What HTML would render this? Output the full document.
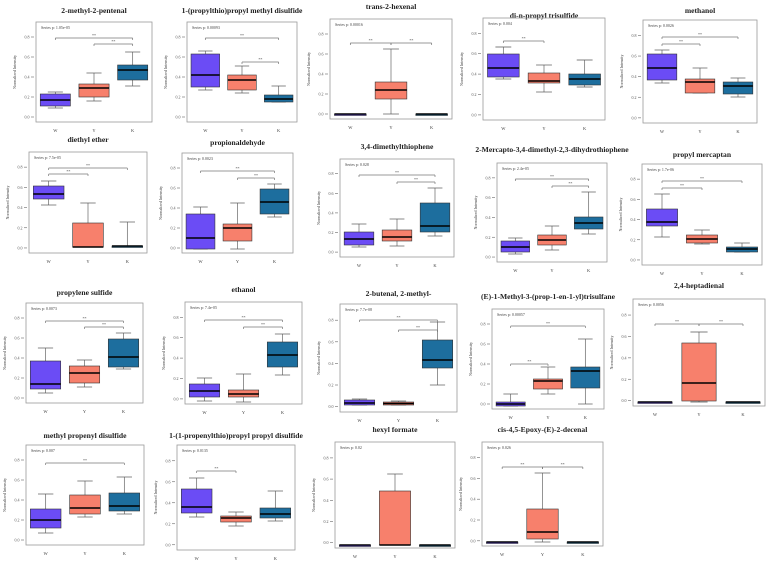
<!DOCTYPE html>
<html><head><meta charset="utf-8">
<style>
html,body{margin:0;padding:0;background:#fff;}
svg{display:block;font-family:"Liberation Serif",serif;}
</style></head>
<body>
<svg id="c" width="767" height="565"></svg>
<script>
const groups = ["W","Y","K"];
const colors = ["#6b4cf5","#f7806c","#1d6e9e"];
const titles = ["2-methyl-2-pentenal","1-(propylthio)propyl methyl disulfide","trans-2-hexenal","di-n-propyl trisulfide","methanol",
"diethyl ether","propionaldehyde","3,4-dimethylthiophene","2-Mercapto-3,4-dimethyl-2,3-dihydrothiophene","propyl mercaptan",
"propylene sulfide","ethanol","2-butenal, 2-methyl-","(E)-1-Methyl-3-(prop-1-en-1-yl)trisulfane","2,4-heptadienal",
"methyl propenyl disulfide","1-(1-propenylthio)propyl propyl disulfide","hexyl formate","cis-4,5-Epoxy-(E)-2-decenal"];
const pvals = ["1.05e-05","0.00093","0.00016","0.004","0.0026","7.5e-05","0.0023","0.028","2.4e-05","1.7e-06","0.0073","7.4e-05","7.7e-08","0.00057","0.0056","0.007","0.0135","0.02","0.026"];
// five-number summaries [min,q1,median,q3,max] per group, per panel
const W = [[14,16,22,28,30],[32,35,47,68,71],[5,5,5,5,5],[41,43,52,66,73],[40,43,55,69,73],
[48,54,59,67,72],[4,4,15,39,46],[10,12,18,25,33],[8,10,15,21,24],[28,39,43,56,71],
[10,14,19,42,55],[3,7,13,20,26],[7,7,9,12,13],[3,3,5,7,15],[4,4,4,4,4],
[12,17,25,36,51],[33,37,43,61,72],[3,3,3,3,3],[4,4,4,4,4]];
const Y = [[21,25,34,38,49],[29,32,42,47,56],[5,20,29,37,70],[28,37,39,47,55],[30,30,41,44,55],
[6,6,6,30,50],[4,12,25,29,50],[11,16,20,27,38],[12,17,22,27,36],[21,22,26,30,35],
[16,20,30,37,43],[2,7,10,14,30],[7,7,8.5,10,11],[15,20,28,30,42],[4,5,23,63,74],
[28,31,37,50,64],[24,28,32,34,38],[3,3,3,57,74],[4,7,14,37,73]];
const K = [[36,42,52,57,70],[20,20,23,27,36],[5,5,5,5,5],[33,35,41,46,60],[26,29,37,41,45],
[7,7,7,7,31],[36,39,51,64,69],[21,25,31,54,69],[28,33,39,45,70],[13,13,16,18,22],
[34,36,46,64,70],[29,37,49,62,70],[27,44,52,72,90],[5,21,38,42,70],[4,4,4,4,4],
[31,34,39,52,68],[29,32,36,42,59],[3,3,3,3,3],[4,4,4,4,4]];
const brackets = [[[0,2,84],[1,2,78]],[[0,2,84],[1,2,60]],[[0,1,76],[1,2,76]],[[0,1,79]],[[0,1,79],[0,2,86]],
[[0,1,79],[0,2,85]],[[0,2,82],[1,2,75]],[[0,2,82],[1,2,75]],[[0,2,83],[1,2,76]],[[0,1,77],[0,2,84]],
[[0,2,82],[1,2,76]],[[0,2,84],[1,2,77]],[[0,2,92],[1,2,82]],[[0,1,45],[0,2,83]],[[0,1,82],[1,2,82]],
[[0,2,82]],[[0,1,79]],[],[[0,1,79],[1,2,79]]];
const yMax = [100,100,100,102,103,101,100,98,99,101,100,102,108,100,107,100,105,106,104];
// layout: frame [x0,y0,x1,y1]
const frames = [[36,22,152,122],[187,22,297,122],[330,19,452,119],[483,18,605,120],[643,20,757,123],
[29,152,147,253],[182,153,293,253],[340,159,454,257],[497,163,607,262],[642,164,762,265],
[26,303,143,403],[185,302,302,404],[340,304,457,412],[492,309,604,409],[633,299,765,406],
[26,445,144,545],[177,445,295,550],[335,442,455,548],[482,442,603,546]];
const titleY = [13,13,9,18,13,142,145,149,152,157,295,292,296,299,288,438,438,432,432];
const svg = document.getElementById('c');
const NS = "http://www.w3.org/2000/svg";
function mk(tag, attrs, parent){const e=document.createElementNS(NS,tag);for(const k in attrs)e.setAttribute(k,attrs[k]);(parent||svg).appendChild(e);return e;}
titles.forEach((t,i)=>{
  const [x0,y0,x1,y1]=frames[i];
  const g=mk('g',{});
  
  
  const h=y1-y0, w=x1-x0;
  const ys=v=>y1-v/yMax[i]*h;
  const xs=j=>x0+w*(j*2+1)/6;
  const tt=mk('text',{x:(x0+x1)/2,y:titleY[i],'text-anchor':'middle','font-size':7.6,'font-weight':'bold',fill:'#222'},g);
  tt.textContent=t;
  
  
  const fr=mk('rect',{x:x0,y:y0,width:w,height:h,fill:'none',stroke:'#999','stroke-width':0.8},g);
  
  
  const pv=mk('text',{x:x0+5,y:y0+7,'font-size':4,fill:'#444'},g);pv.textContent='Series p: '+pvals[i];
  
  
  const yl=mk('text',{x:0,y:0,transform:`translate(${x0-20},${(y0+y1)/2}) rotate(-90)`,'text-anchor':'middle','font-size':4,fill:'#444'},g);
  yl.textContent='Normalized Intensity';
  
  
  for(let k=0;k<=4;k++){const v=yMax[i]*0.05+k*yMax[i]*0.2;const y=ys(v);
    mk('line',{x1:x0-5,x2:x0-2,y1:y,y2:y,stroke:'#666','stroke-width':0.6},g);
    const tl=mk('text',{x:x0-9,y:y+1.5,'text-anchor':'middle','font-size':4,fill:'#555'},g);tl.textContent=(k*0.2).toFixed(1);
    
    }
  [W[i],Y[i],K[i]].forEach((d,j)=>{
    const cx=xs(j), bw=w*0.26;
    const s=mk('line',{x1:cx,x2:cx,y1:ys(d[0]),y2:ys(d[4]),stroke:'#666','stroke-width':0.7},g);
    
    
    mk('line',{x1:cx-bw/4,x2:cx+bw/4,y1:ys(d[0]),y2:ys(d[0]),stroke:'#555','stroke-width':0.7},g);
    mk('line',{x1:cx-bw/4,x2:cx+bw/4,y1:ys(d[4]),y2:ys(d[4]),stroke:'#555','stroke-width':0.7},g);
    const b=mk('rect',{x:cx-bw/2,y:ys(d[3]),width:bw,height:Math.max(1.5,ys(d[1])-ys(d[3])),fill:colors[j],stroke:'#333','stroke-width':0.6},g);
    
    
    mk('line',{x1:cx-bw/2,x2:cx+bw/2,y1:ys(d[2]),y2:ys(d[2]),stroke:'#000','stroke-width':1.6},g);
    const xl=mk('text',{x:cx,y:y1+10,'text-anchor':'middle','font-size':4.5,fill:'#444'},g);xl.textContent=groups[j];
    
    
  });
  brackets[i].forEach(bk=>{
    const y=ys(bk[2]);
    const l=mk('line',{x1:xs(bk[0]),x2:xs(bk[1]),y1:y,y2:y,stroke:'#777','stroke-width':0.7},g);
    
    
    mk('line',{x1:xs(bk[0]),x2:xs(bk[0]),y1:y,y2:y+2,stroke:'#777','stroke-width':0.7},g);
    mk('line',{x1:xs(bk[1]),x2:xs(bk[1]),y1:y,y2:y+2,stroke:'#777','stroke-width':0.7},g);
    const st=mk('text',{x:(xs(bk[0])+xs(bk[1]))/2,y:y-1,'text-anchor':'middle','font-size':4,fill:'#555'},g);st.textContent='**';
    
    
  });
});
</script>
</body></html>
